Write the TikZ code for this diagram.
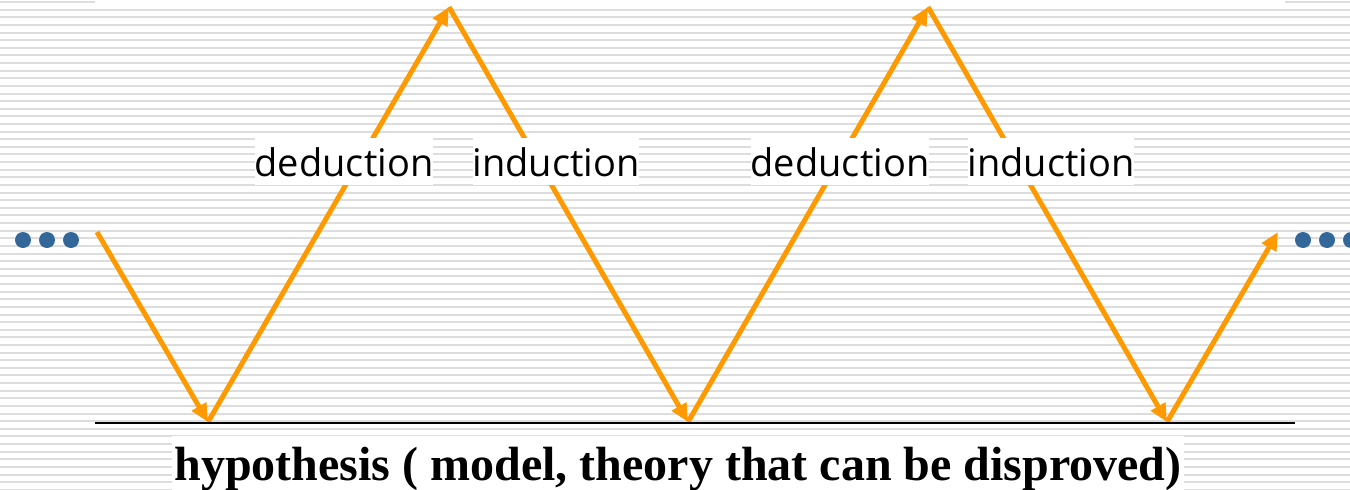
\documentclass[tikz,border=0pt]{standalone}
\usepackage{fontspec}
\setmainfont{Liberation Serif}
\newfontfamily\labelfont{Open Sans}
\usetikzlibrary{arrows.meta}
\definecolor{arrorange}{RGB}{255,153,0}
\definecolor{dotblue}{RGB}{51,102,153}
\definecolor{stripegray}{RGB}{221,221,221}

\begin{document}
\begin{tikzpicture}[x=1pt, y=-1pt,
  stripe/.style={draw=stripegray, line width=2pt},
  lbl/.style={fill=white, inner xsep=0pt, inner ysep=9pt, anchor=base, font=\labelfont\fontsize{38}{40}\selectfont},
  hyp/.style={fill=white, inner xsep=2pt, inner ysep=11pt, anchor=base, font=\bfseries\fontsize{48}{52}\selectfont},
  dot/.style={circle, fill=dotblue, inner sep=0pt, minimum size=16pt},
  arr/.style={-{Triangle[length=18pt, width=16pt]}, line width=5pt, draw=arrorange},
  groundline/.style={line width=2pt, draw=black}
]
  \useasboundingbox (0,0) rectangle (1350,490);

  % background stripes
  \draw[stripe] (0,1.5) -- (95,1.5);
  \draw[stripe] (1285,1.5) -- (1350,1.5);
  \foreach \k in {0,...,63} {
    \draw[stripe] (0,{9.7+7.62*\k}) -- (1350,{9.7+7.62*\k});
  }

  % zigzag corners
  \coordinate (s0) at (97,232);
  \coordinate (v1) at (208,422);
  \coordinate (p1) at (449,7);
  \coordinate (v2) at (688,422);
  \coordinate (p2) at (928,7);
  \coordinate (v3) at (1167,422);
  \coordinate (e0) at (1278,232);

  % arrows
  \draw[arr] (s0) -- (v1);
  \draw[arr] (v1) -- (p1);
  \draw[arr] (p1) -- (v2);
  \draw[arr] (v2) -- (p2);
  \draw[arr] (p2) -- (v3);
  \draw[arr] (v3) -- (e0);

  % labels
  \node[lbl] (ded1) at (344,176) {deduction};
  \node[lbl] (ind1) at (556,176) {induction};
  \node[lbl] (ded2) at (840,176) {deduction};
  \node[lbl] (ind2) at (1051,176) {induction};

  % hypothesis line and caption
  \coordinate (gl) at (95,423);
  \coordinate (gr) at (1295,423);
  \draw[groundline] (gl) -- (gr);
  \node[hyp] (hyp) at (678,480) {hypothesis ( model, theory that can be disproved)};

  % dots
  \node[dot] (dl1) at (23,240) {};
  \node[dot] (dl2) at (47,240) {};
  \node[dot] (dl3) at (71,240) {};
  \node[dot] (dr1) at (1303,240) {};
  \node[dot] (dr2) at (1327,240) {};
  \node[dot] (dr3) at (1351,240) {};
\end{tikzpicture}
\end{document}
